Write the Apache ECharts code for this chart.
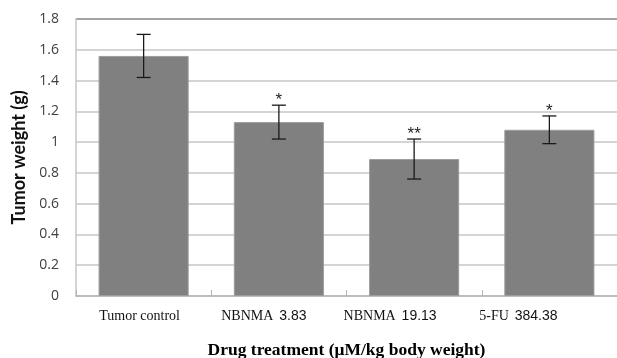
<!DOCTYPE html>
<html>
<head>
<meta charset="utf-8">
<script src="https://cdn.jsdelivr.net/npm/echarts@6/dist/echarts.min.js"></script>
<style>
  html, body { margin: 0; padding: 0; background: #fff; }
  #chart { width: 617px; height: 358px; }
</style>
</head>
<body>
<div id="chart"></div>
<script>
// Treatment groups and their tick labels (drug name + dose)
const categories = ['Tumor control', 'NBNMA 3.83', 'NBNMA 19.13', '5-FU 384.38'];
const drugNames = ['Tumor control', 'NBNMA', 'NBNMA', '5-FU'];
const doses = ['', '3.83', '19.13', '384.38'];
// Mean tumor weight (g) and its error
const tumorWeight = [1.56, 1.13, 0.89, 1.08];
const errorSize = [0.14, 0.11, 0.13, 0.09];
// Significance markers
const significance = ['', '*', '**', '*'];
// Y-axis tick values
const yTicks = [0, 0.2, 0.4, 0.6, 0.8, 1, 1.2, 1.4, 1.6, 1.8];

const chart = echarts.init(document.getElementById('chart'));

const errorData = tumorWeight.map((v, i) => [i, v - errorSize[i], v + errorSize[i], significance[i]]);

const gridColors = yTicks.map((t, i) => i === yTicks.length - 1 ? '#858585' : '#c6c6c6');

// Tick labels sit a little left of their category centre; trailing padding shifts them
const labelShift = [8, 30, 48, 62];
const rich = {};
labelShift.forEach((p, i) => {
  rich['s' + i] = { fontFamily: 'Liberation Serif', fontSize: 14, color: '#111', padding: [0, doses[i] ? 0 : p, 0, 0] };
  rich['n' + i] = { fontFamily: 'Liberation Sans', fontSize: 14, color: '#111', padding: [0, p, 0, 2] };
});

chart.setOption({
  animation: false,
  grid: { left: 76, right: 0, top: 19, bottom: 62, containLabel: false, outerBoundsMode: 'none' },
  xAxis: {
    type: 'category',
    data: categories,
    name: 'Drug treatment (\u03BCM/kg body weight)',
    nameLocation: 'middle',
    nameGap: 45,
    nameTextStyle: {
      fontFamily: 'Liberation Serif', fontWeight: 'bold', fontSize: 17.5, color: '#000'
    },
    axisLine: { lineStyle: { color: '#b4b4b4', width: 1.5 } },
    axisTick: { show: true, inside: true, length: 6, lineStyle: { color: '#b4b4b4' } },
    axisLabel: {
      interval: 0,
      margin: 13,
      formatter: (val, idx) => doses[idx]
        ? '{s' + idx + '|' + drugNames[idx] + '}{n' + idx + '| ' + doses[idx] + '}'
        : '{s' + idx + '|' + drugNames[idx] + '}',
      rich
    }
  },
  yAxis: {
    type: 'value',
    min: 0, max: 1.8, interval: 0.2,
    name: 'Tumor weight (g)',
    nameLocation: 'middle',
    nameGap: 47,
    nameTextStyle: { fontFamily: 'Lato', fontWeight: 'bold', fontSize: 18, color: '#111' },
    axisLine: { show: true, lineStyle: { color: '#c6c6c6', width: 1.5 } },
    axisTick: { show: false },
    axisLabel: {
      margin: 17,
      fontFamily: 'Open Sans', fontSize: 14, color: '#404040',
      formatter: v => String(parseFloat(v.toFixed(1)))
    },
    splitLine: { lineStyle: { color: gridColors, width: 1.5 } }
  },
  series: [
    {
      type: 'bar',
      data: tumorWeight,
      barCategoryGap: '33.4%',
      itemStyle: { color: '#808080', borderColor: '#9c9c9c', borderWidth: 1 },
      z: 2
    },
    {
      type: 'custom',
      data: errorData,
      z: 5,
      renderItem: (params, api) => {
        const x = api.value(0);
        const lo = api.coord([x, api.value(1)]);
        const hi = api.coord([x, api.value(2)]);
        const cap = 7;
        const style = { stroke: '#1a1a1a', lineWidth: 1.3 };
        const children = [
          { type: 'line', shape: { x1: lo[0], y1: lo[1], x2: hi[0], y2: hi[1] }, style },
          { type: 'line', shape: { x1: lo[0] - cap, y1: lo[1], x2: lo[0] + cap, y2: lo[1] }, style },
          { type: 'line', shape: { x1: hi[0] - cap, y1: hi[1], x2: hi[0] + cap, y2: hi[1] }, style }
        ];
        const mark = api.value(3);
        if (mark) {
          children.push({
            type: 'text',
            style: {
              text: mark, x: hi[0], y: hi[1] + 4,
              align: 'center', verticalAlign: 'bottom',
              fontFamily: 'Liberation Sans', fontSize: 17, fill: '#222'
            }
          });
        }
        return { type: 'group', children };
      }
    }
  ]
});
</script>
</body>
</html>
